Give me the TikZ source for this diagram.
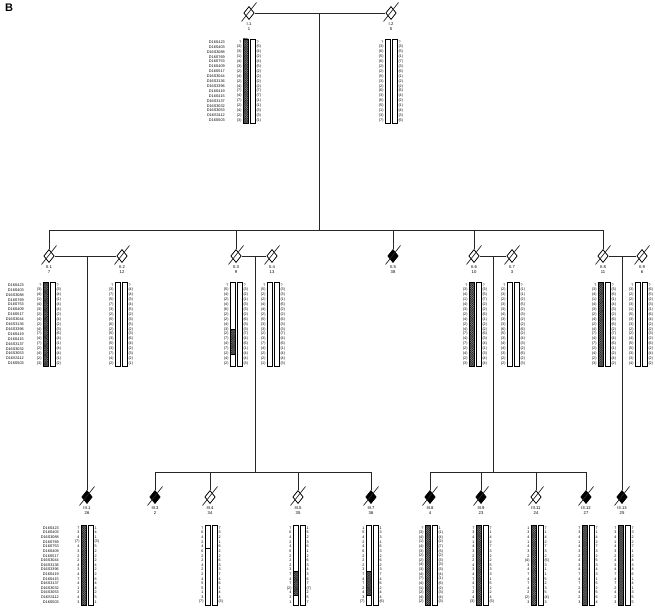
\documentclass[tikz,border=0pt]{standalone}
\usepackage{fontspec}
\setmainfont{Liberation Sans}
\usetikzlibrary{shapes.geometric,patterns}
\pgfdeclarepatternformonly{finexh}{\pgfqpoint{-0.2pt}{-0.2pt}}{\pgfqpoint{2.0pt}{2.0pt}}{\pgfqpoint{1.8pt}{1.8pt}}{%
  \pgfsetlinewidth{0.36pt}%
  \pgfpathmoveto{\pgfqpoint{0pt}{0pt}}\pgfpathlineto{\pgfqpoint{1.8pt}{1.8pt}}%
  \pgfpathmoveto{\pgfqpoint{0pt}{1.8pt}}\pgfpathlineto{\pgfqpoint{1.8pt}{0pt}}%
  \pgfusepath{stroke}}
\tikzset{
  ind/.style={draw, shape=diamond, minimum width=10.5pt, minimum height=13pt, inner sep=0pt, line width=0.75pt, fill=white},
  aff/.style={ind, fill=black},
  pline/.style={line width=0.7pt, draw=black!85},
  lbl/.style={font=\fontsize{4.2}{4.2}\selectfont, inner sep=0pt},
  al/.style={font=\fontsize{3.7}{3.7}\selectfont, inner sep=0pt},
  mk/.style={font=\fontsize{3.8}{3.8}\selectfont, inner sep=0pt, anchor=east},
  hapbar/.style={draw, line width=0.45pt, fill=white},
  hbar/.style={draw, line width=0.45pt, preaction={fill=black!35}, pattern=finexh, pattern color=black!85},
}
% haplotype block: #1 name, #2 bar1 left x, #3 first row y, #4 row step, #5 left alleles, #6 right alleles
\newcommand\hapblock[6]{%
  \path[hapbar] (#2,{#3-3}) rectangle ({#2+5},{#3+16*#4+3});
  \path[hapbar] ({#2+7},{#3-3}) rectangle ({#2+12},{#3+16*#4+3});
  \foreach \v [count=\i] in {#5} \node[al, anchor=east] (#1L\i) at ({#2-1.3},{#3+(\i-1)*#4}) {\v};
  \foreach \v [count=\i] in {#6} \node[al, anchor=west] (#1R\i) at ({#2+13.3},{#3+(\i-1)*#4}) {\v};
}
% shaded part of bar1: #1 bar1 left x, #2 top y, #3 bottom y
\newcommand\hsh[3]{\path[hbar] (#1,#2) rectangle ({#1+5},#3);}
% marker names: #1 name, #2 right x, #3 first y, #4 step
\newcommand\markers[4]{%
  \foreach \m [count=\i] in {D16S423,D16S403,D16S3088,D16S769,D16S753,D16S409,D16S517,D16S3044,D16S3136,D16S3396,D16S419,D16S415,D16S3137,D16S3032,D16S3053,D16S3112,D16S503}
    \node[mk] (#1M\i) at (#2,{#3+(\i-1)*#4}) {\m};
}
% individual: #1 name, #2 style, #3 x, #4 y, #5 label, #6 number
\newcommand\person[6]{%
  \node[#2] (#1) at (#3,#4) {};
  \draw[pline] ([shift={(-7.5,8.5)}]#1.center) -- ([shift={(7.5,-10.5)}]#1.center);
  \node[lbl] (#1a) at (#3,{#4+11.5}) {#5};
  \node[lbl] (#1b) at (#3,{#4+16.5}) {#6};
}
\begin{document}
\begin{tikzpicture}[x=1pt,y=-1pt]
\useasboundingbox (0,0) rectangle (655,607);
\node[font=\fontsize{11}{11}\selectfont\bfseries, inner sep=0pt] (title) at (9,8) {B};

% ---------------- Generation I
\person{I1}{ind}{249}{13}{I.1}{1}
\person{I2}{ind}{391}{13}{I.2}{5}
\draw[pline] (I1) -- (I2);
\coordinate (mI) at (319,13);
\coordinate (sI) at (319,230);
\coordinate (sIL) at (49,230);
\coordinate (sIR) at (603,230);
\draw[pline] (mI) -- (sI);
\draw[pline] (sIL) -- (sIR);

\markers{I1}{225}{42}{4.9}
\hapblock{I1}{243}{42}{4.9}{?,(3),(3),(1),(4),(3),(2),(4),(2),(4),(7),(4),(7),(2),(4),(2),(3)}{?,(5),(4),(2),(4),(5),(2),(2),(2),(2),(7),(7),(1),(1),(3),(3),(1)}
\hsh{243}{39}{123.4}
\hapblock{I2}{385}{42}{4.9}{?,(3),(6),(5),(6),(2),(2),(5),(3),(2),(6),(3),(6),(5),(1),(3),(7)}{?,(3),(5),(1),(7),(3),(6),(1),(2),(2),(6),(4),(2),(1),(4),(3),(6)}

% ---------------- Generation II
\person{II1}{ind}{49}{256}{II.1}{7}
\person{II2}{ind}{122}{256}{II.2}{12}
\person{II3}{ind}{236}{256}{II.3}{9}
\person{II4}{ind}{272}{256}{II.4}{13}
\person{II5}{aff}{393}{256}{II.5}{38}
\person{II6}{ind}{474}{256}{II.6}{10}
\person{II7}{ind}{512}{256}{II.7}{3}
\person{II8}{ind}{603}{256}{II.8}{11}
\person{II9}{ind}{642}{256}{II.9}{6}
\draw[pline] (sIL) -- (II1.north);
\draw[pline] (II3.north |- sIL) -- (II3.north);
\draw[pline] (II5.north |- sIL) -- (II5.north);
\draw[pline] (II6.north |- sIL) -- (II6.north);
\draw[pline] (sIR) -- (II8.north);
\draw[pline] (II1) -- (II2);
\draw[pline] (II3) -- (II4);
\draw[pline] (II6) -- (II7);
\draw[pline] (II8) -- (II9);

\markers{II1}{24}{285}{4.9}
\hapblock{II1}{43}{285}{4.9}{?,(3),(4),(1),(4),(3),(2),(4),(2),(4),(7),(4),(7),(2),(4),(2),(3)}{?,(3),(4),(1),(4),(4),(2),(4),(2),(3),(6),(4),(1),(4),(4),(1),(2)}
\hsh{43}{282}{366.4}
\hapblock{II2}{115}{285}{4.9}{?,(3),(7),(5),(7),(3),(2),(5),(6),(2),(5),(3),(5),(3),(7),(4),(2)}{?,(4),(4),(3),(4),(5),(2),(3),(5),(2),(3),(6),(4),(2),(3),(2),(1)}
\hapblock{II3}{230}{285}{4.9}{?,(5),(4),(2),(4),(6),(2),(2),(4),(3),(2),(7),(4),(7),(2),(4),(2)}{?,(3),(2),(1),(3),(3),(2),(6),(3),(3),(7),(4),(6),(1),(4),(4),(3)}
\hsh{230}{329}{354}
\hapblock{II4}{267}{285}{4.9}{?,(5),(2),(2),(4),(4),(2),(5),(3),(3),(2),(3),(7),(4),(2),(2),(1)}{?,(3),(3),(1),(6),(2),(2),(6),(3),(3),(7),(4),(6),(1),(4),(4),(3)}
\hapblock{II6}{469}{285}{4.9}{?,(3),(4),(1),(4),(3),(2),(4),(2),(4),(7),(4),(7),(2),(4),(2),(3)}{?,(3),(5),(7),(2),(2),(6),(1),(2),(2),(6),(3),(4),(1),(3),(4),(4)}
\hsh{469}{282}{366.4}
\hapblock{II7}{507}{285}{4.9}{?,(2),(3),(2),(3),(3),(4),(3),(3),(6),(5),(3),(4),(4),(3),(2),(2)}{?,(1),(1),(2),(5),(2),(3),(2),(2),(6),(2),(4),(3),(2),(6),(2),(3)}
\hapblock{II8}{598}{285}{4.9}{?,(3),(4),(1),(4),(3),(2),(4),(2),(4),(7),(4),(7),(2),(4),(2),(3)}{?,(3),(6),(1),(4),(3),(2),(6),(6),(2),(7),(4),(6),(1),(2),(4),(2)}
\hsh{598}{282}{366.4}
\hapblock{II9}{635}{285}{4.9}{?,(3),(2),(2),(3),(1),(5),(3),(3),(2),(2),(4),(5),(5),(3),(3),(4)}{?,(6),(5),(2),(3),(1),(6),(4),(2),(2),(3),(2),(6),(2),(4),(2),(2)}

% ---------------- Generation III
\coordinate (mII1) at (87,256);
\coordinate (mII3) at (255,256);
\coordinate (sIIa) at (255,472);
\coordinate (sIIaL) at (155,472);
\coordinate (sIIaR) at (371,472);
\coordinate (mII6) at (493,256);
\coordinate (sIIb) at (493,472);
\coordinate (sIIbL) at (430,472);
\coordinate (sIIbR) at (586,472);
\coordinate (mII8) at (622,256);

\person{III1}{aff}{87}{497}{III.1}{26}
\person{III3}{aff}{155}{497}{III.3}{2}
\person{III4}{ind}{210}{497}{III.4}{34}
\person{III5}{ind}{298}{497}{III.5}{35}
\person{III7}{aff}{371}{497}{III.7}{36}
\person{III8}{aff}{430}{497}{III.8}{4}
\person{III9}{aff}{481}{497}{III.9}{23}
\person{III11}{ind}{536}{497}{III.11}{24}
\person{III12}{aff}{586}{497}{III.12}{27}
\person{III13}{aff}{622}{497}{III.13}{25}

\draw[pline] (mII1) -- (III1.north);
\draw[pline] (mII3) -- (sIIa);
\draw[pline] (sIIaL) -- (sIIaR);
\draw[pline] (sIIaL) -- (III3.north);
\draw[pline] (III4.north |- sIIaL) -- (III4.north);
\draw[pline] (III5.north |- sIIaL) -- (III5.north);
\draw[pline] (sIIaR) -- (III7.north);
\draw[pline] (mII6) -- (sIIb);
\draw[pline] (sIIbL) -- (sIIbR);
\draw[pline] (sIIbL) -- (III8.north);
\draw[pline] (III9.north |- sIIbL) -- (III9.north);
\draw[pline] (III11.north |- sIIbL) -- (III11.north);
\draw[pline] (sIIbR) -- (III12.north);
\draw[pline] (mII8) -- (III13.north);

\markers{III1}{59}{528}{4.62}
\hapblock{III1}{81}{528}{4.62}{7,3,4,(7),4,3,2,2,4,3,4,7,4,1,2,4,3}{1,4,1,(3),5,2,2,2,4,2,2,6,4,4,2,5,1}
\hsh{81}{525}{605}
\hapblock{III4}{205}{528}{4.62}{7,6,4,2,4,6,2,2,4,2,2,4,5,5,1,3,(7)}{7,3,2,1,6,2,2,6,3,3,7,4,6,1,4,4,(3)}
\draw[line width=0.45pt] (205,548) -- (210,548);
\hapblock{III5}{293}{528}{4.62}{7,6,4,2,4,6,2,2,2,3,7,4,7,(2),4,3,1}{1,5,2,3,6,1,2,6,3,4,3,6,7,(7),2,5,7}
\hsh{293}{571}{595}
\hapblock{III7}{366}{528}{4.62}{1,5,4,2,4,6,2,2,2,3,7,4,7,2,4,3,(7)}{1,3,3,1,6,3,2,6,2,3,7,4,6,2,4,4,(6)}
\hsh{366}{571}{595}
\hapblock{III8}{425}{528}{4.62}{?,(3),(4),(1),(4),(3),(2),(2),(4),(3),(4),(7),(4),(1),(2),(4),(2)}{1,(1),(4),(2),(7),(3),(2),(3),(3),(3),(4),(1),(6),(2),(3),(4),(3)}
\hsh{425}{525}{605}
\hapblock{III9}{476}{528}{4.62}{7,3,4,1,4,3,2,2,4,3,4,7,4,7,2,4,(3)}{7,1,4,2,7,3,2,2,5,3,3,1,5,2,2,4,(3)}
\hsh{476}{525}{605}
\hapblock{III11}{531}{528}{4.62}{1,3,4,1,4,3,2,(4),3,4,7,4,7,4,2,(2),3}{7,1,4,2,7,3,2,(5),3,1,1,5,2,3,5,(4),3}
\hsh{531}{525}{605}
\hapblock{III12}{582}{528}{4.62}{7,3,4,1,4,3,2,4,3,4,7,4,7,2,4,2,3}{7,1,4,2,7,3,2,5,3,4,3,1,5,2,5,6,4}
\hsh{582}{525}{605}
\hapblock{III13}{618}{528}{4.62}{7,3,4,1,4,3,2,4,3,4,7,4,7,2,4,2,3}{7,3,2,2,7,1,2,4,3,4,6,1,4,1,3,5,5}
\hsh{618}{525}{605}
\end{tikzpicture}
\end{document}
